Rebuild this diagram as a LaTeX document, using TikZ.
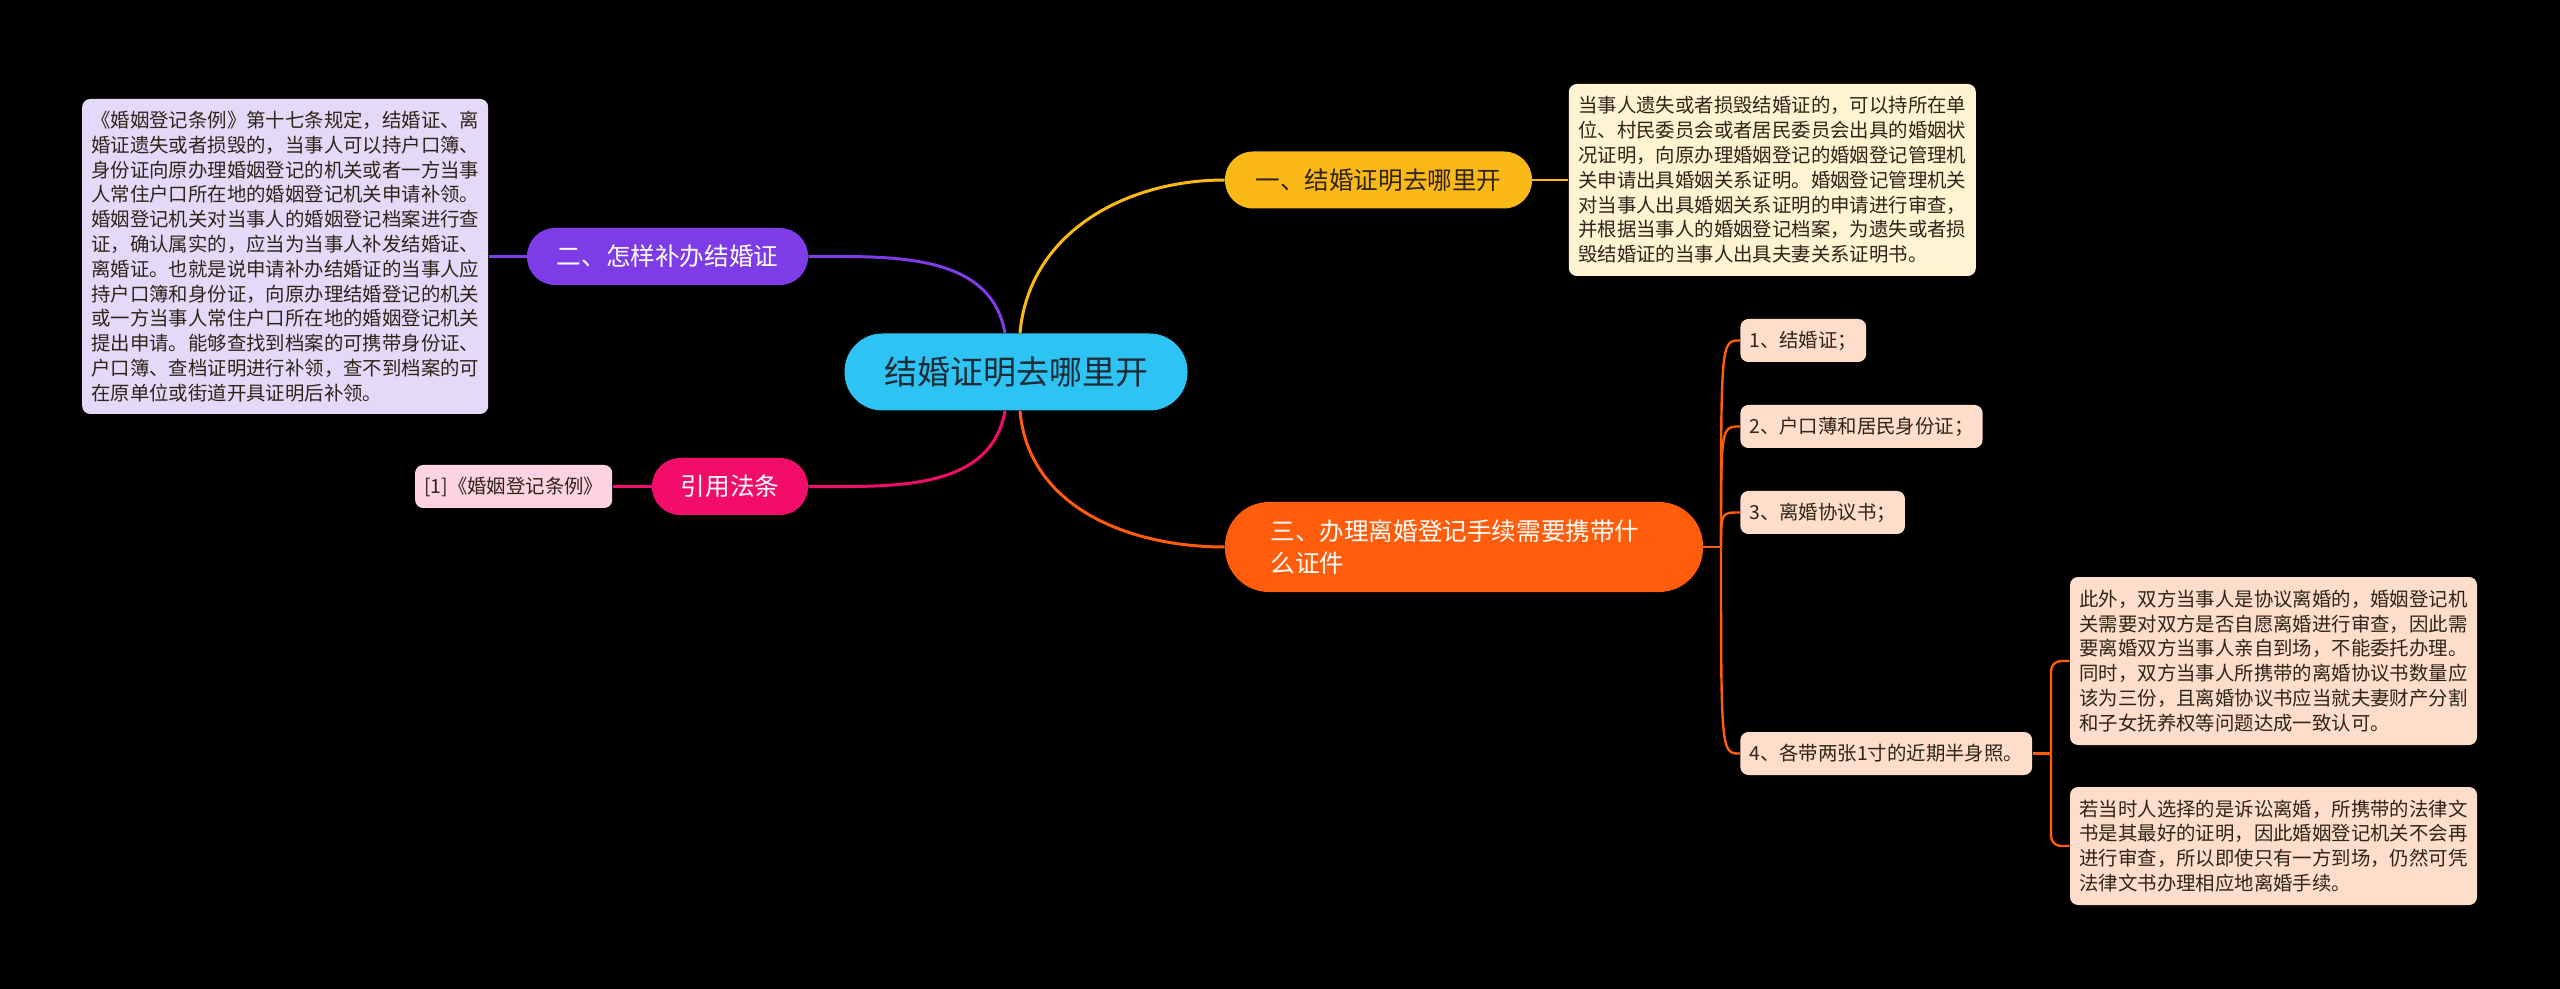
\documentclass[tikz,border=0pt]{standalone}
\usepackage{fontspec}
\newfontfamily\cjk{Noto Sans CJK SC}
\usepackage{xcolor}
\definecolor{mroot}{HTML}{2DC3F3}
\definecolor{mink}{HTML}{1C2B36}
\definecolor{myel}{HTML}{FBB917}
\definecolor{mpur}{HTML}{7D3CE6}
\definecolor{mpink}{HTML}{F20D6B}
\definecolor{morg}{HTML}{FF5C0B}
\definecolor{lyel}{HTML}{FFF3D2}
\definecolor{lpur}{HTML}{E5D9FA}
\definecolor{lpink}{HTML}{FDD3E4}
\definecolor{lorg}{HTML}{FEDDCB}
\definecolor{tdark}{HTML}{2E2418}
\usepackage{tikz}
\usetikzlibrary{positioning}

\begin{document}
\begin{tikzpicture}[x=0.5pt,y=0.5pt,
  root/.style={fill=mroot,text=mink,rounded corners=19pt,inner sep=0pt,
    minimum width=171.5pt,minimum height=38.5pt,font=\cjk\fontsize{16.5}{20}\selectfont},
  topic/.style={rounded corners=14pt,inner sep=0pt,minimum height=28.5pt,
    font=\cjk\fontsize{12.3}{16}\selectfont},
  leaf/.style={rounded corners=4pt,inner xsep=4.5pt,inner ysep=0pt,align=left,
    text=tdark,font=\cjk\fontsize{9.7}{12.4}\selectfont},
  link/.style={line width=1.5pt},
  twig/.style={line width=1.2pt}]
\fill[black] (0,0) rectangle (2560,-989);
\useasboundingbox (0,0) rectangle (2560,-989);
% root and main topics
\node[root] (c) at (1016,-372) {结婚证明去哪里开};
\node[topic,fill=myel,text=tdark,minimum width=153.5pt] (b1) at (1378.5,-180) {一、结婚证明去哪里开};
\node[topic,fill=mpur,text=white,minimum width=140.5pt] (b2) at (667.5,-256.5) {二、怎样补办结婚证};
\node[topic,fill=mpink,text=white,minimum width=78pt] (b3) at (730,-486.5) {引用法条};
\node[topic,fill=morg,text=white,minimum width=239pt,minimum height=45pt,rounded corners=22pt,
  align=left,text width=193.5pt] (b4) at (1464,-547)
  {三、办理离婚登记手续需要携带什\\么证件};
% leaves of the first three topics
\node[leaf,fill=lyel,minimum width=203.5pt,minimum height=96pt,right=18pt of b1] (l1)
  {当事人遗失或者损毁结婚证的，可以持所在单\\
   位、村民委员会或者居民委员会出具的婚姻状\\
   况证明，向原办理婚姻登记的婚姻登记管理机\\
   关申请出具婚姻关系证明。婚姻登记管理机关\\
   对当事人出具婚姻关系证明的申请进行审查，\\
   并根据当事人的婚姻登记档案，为遗失或者损\\
   毁结婚证的当事人出具夫妻关系证明书。};
\node[leaf,fill=lpur,minimum width=203pt,minimum height=157.5pt,left=19pt of b2] (l2)
  {《婚姻登记条例》第十七条规定，结婚证、离\\
   婚证遗失或者损毁的，当事人可以持户口簿、\\
   身份证向原办理婚姻登记的机关或者一方当事\\
   人常住户口所在地的婚姻登记机关申请补领。\\
   婚姻登记机关对当事人的婚姻登记档案进行查\\
   证，确认属实的，应当为当事人补发结婚证、\\
   离婚证。也就是说申请补办结婚证的当事人应\\
   持户口簿和身份证，向原办理结婚登记的机关\\
   或一方当事人常住户口所在地的婚姻登记机关\\
   提出申请。能够查找到档案的可携带身份证、\\
   户口簿、查档证明进行补领，查不到档案的可\\
   在原单位或街道开具证明后补领。};
\node[leaf,fill=lpink,minimum height=21.5pt,left=19.5pt of b3] (l3) {[1]《婚姻登记条例》};
% items of the third topic
\foreach \n/\y/\t in {1/340.5/{1、结婚证；},2/426.5/{2、户口薄和居民身份证；},
  3/512.5/{3、离婚协议书；},4/753.5/{4、各带两张1寸的近期半身照。}}{
  \node[leaf,fill=lorg,minimum height=21.5pt,anchor=west] (i\n) at (1740,-\y) {\t}; }
\node[leaf,fill=lorg,minimum width=203.5pt,minimum height=84pt] (r1) at (2273.5,-661)
  {此外，双方当事人是协议离婚的，婚姻登记机\\
   关需要对双方是否自愿离婚进行审查，因此需\\
   要离婚双方当事人亲自到场，不能委托办理。\\
   同时，双方当事人所携带的离婚协议书数量应\\
   该为三份，且离婚协议书应当就夫妻财产分割\\
   和子女抚养权等问题达成一致认可。};
\node[leaf,fill=lorg,minimum width=203.5pt,minimum height=59pt] (r2) at (2273.5,-846)
  {若当时人选择的是诉讼离婚，所携带的法律文\\
   书是其最好的证明，因此婚姻登记机关不会再\\
   进行审查，所以即使只有一方到场，仍然可凭\\
   法律文书办理相应地离婚手续。};
% branches from the root
\coordinate (cn1) at ([xshift=2pt]c.north);
\coordinate (cn2) at ([xshift=-5.5pt]c.north);
\coordinate (cs1) at ([xshift=2pt]c.south);
\coordinate (cs2) at ([xshift=-5.5pt]c.south);
\draw[link,myel] (cn1) to[out=85,in=180] (b1.west);
\draw[link,mpur] (cn2) to[out=100,in=0] (b2.east);
\draw[link,mpink] (cs2) to[out=-100,in=0] (b3.east);
\draw[link,morg] (cs1) to[out=-85,in=180] (b4.west);
% topic to leaf
\draw[twig,myel] (b1.east) -- (l1.west);
\draw[twig,mpur] (l2.east) -- (b2.west);
\draw[twig,mpink] (l3.east) -- (b3.west);
% fan to the items
\coordinate (j) at (1721,-547);
\draw[twig,morg] (b4.east) -- (j);
\foreach \n in {1,...,4}{ \draw[twig,morg] (j) .. controls (j |- i\n.west) .. (i\n.west); }
\coordinate (k) at (2051,-753.5);
\draw[twig,morg] (i4.east) -- (k);
\foreach \n in {1,2}{ \draw[twig,morg,rounded corners=5pt] (k) |- (r\n.west); }
\end{tikzpicture}
\end{document}
